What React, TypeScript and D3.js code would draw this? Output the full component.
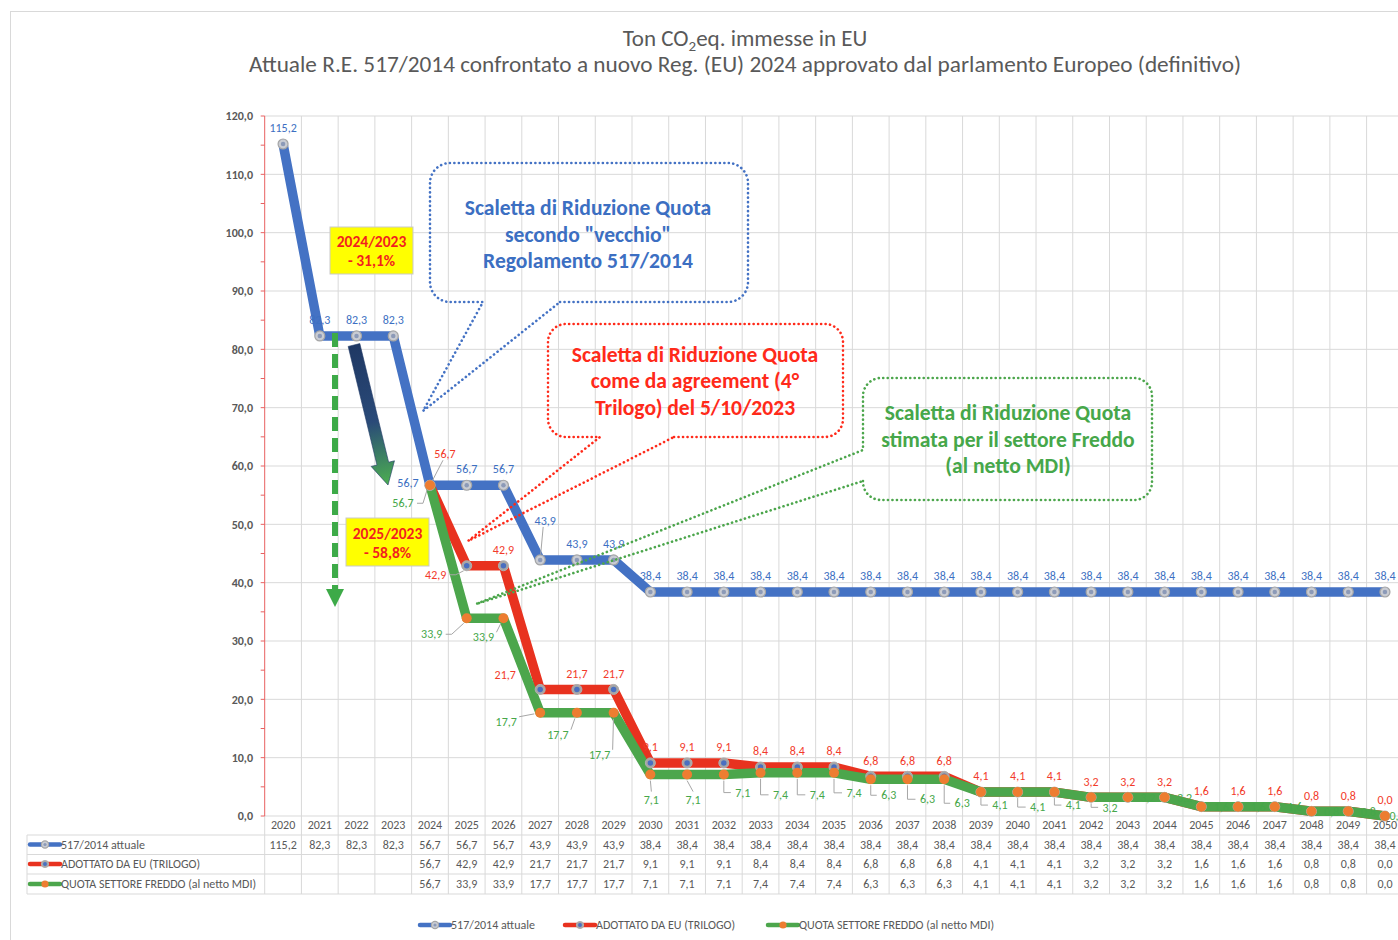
import React from "react";
import * as d3 from "d3";

const years = Array.from({ length: 31 }, (_, i) => String(2020 + i));
const seriesNames = ["517/2014 attuale", "ADOTTATO DA EU (TRILOGO)", "QUOTA SETTORE FREDDO (al netto MDI)"];
const blueValues: (number | null)[] = [115.2, 82.3, 82.3, 82.3, 56.7, 56.7, 56.7, 43.9, 43.9, 43.9,
  38.4, 38.4, 38.4, 38.4, 38.4, 38.4, 38.4, 38.4, 38.4, 38.4, 38.4, 38.4, 38.4, 38.4, 38.4, 38.4, 38.4, 38.4, 38.4, 38.4, 38.4];
const redValues: (number | null)[] = [null, null, null, null, 56.7, 42.9, 42.9, 21.7, 21.7, 21.7,
  9.1, 9.1, 9.1, 8.4, 8.4, 8.4, 6.8, 6.8, 6.8, 4.1, 4.1, 4.1, 3.2, 3.2, 3.2, 1.6, 1.6, 1.6, 0.8, 0.8, 0.0];
const greenValues: (number | null)[] = [null, null, null, null, 56.7, 33.9, 33.9, 17.7, 17.7, 17.7,
  7.1, 7.1, 7.1, 7.4, 7.4, 7.4, 6.3, 6.3, 6.3, 4.1, 4.1, 4.1, 3.2, 3.2, 3.2, 1.6, 1.6, 1.6, 0.8, 0.8, 0.0];
const yTicks = [0, 10, 20, 30, 40, 50, 60, 70, 80, 90, 100, 110, 120];

// label placement (styling, not data): [dx, dy, leader type]
type Off = [number, number, string];
const blueOff: Record<number, Off> = { 4: [-22, -2, ""], 7: [5, -39, "line"] };
const redOff: Record<number, Off> = { 4: [15, -31, "line"], 5: [-31, 9, "h"], 7: [-35, -15, ""] };
const greenOff: Record<number, Off> = {
  4: [-27, 18, "h"], 5: [-35, 16, "h"], 6: [-20, 19, "line"], 7: [-34, 9, "line"], 8: [-19, 22, "line"], 9: [-14, 42, "line"],
  10: [1, 25, "vert"], 11: [6, 25, "vert"], 12: [19, 18, "elbow"], 13: [20, 22, "elbow"], 14: [20, 22, "elbow"], 15: [20, 20, "elbow"],
  16: [18, 16, "elbow"], 17: [20, 20, "elbow"], 18: [18, 24, "elbow"], 19: [19, 13, "elbow"], 20: [20, 15, "elbow"], 21: [19, 13, "elbow"],
  22: [19, 10, "elbow"], 30: [12, 0, ""],
};

const FONT = "Carlito, Lato, 'Open Sans', sans-serif";
const BLUE = "#4472C4";
const RED = "#E8321F";
const GREEN = "#4CA64C";
const BLUE_T = "#3C6FC2";
const RED_T = "#F23A2A";
const GREEN_T = "#46A74A";
const GRID = "#D9D9D9";
const TXT = "#595959";

const fmt = (v: number) => v.toFixed(1).replace(".", ",");

export default function App() {
  const W = 1398, H = 940;
  const x0 = 264.7, bw = 36.73;
  const x = d3.scaleBand<string>().domain(years).range([x0, x0 + bw * years.length]);
  const cx = (i: number) => (x(years[i]) as number) + x.bandwidth() / 2;
  const y = d3.scaleLinear().domain([0, 120]).range([816, 116]);
  const line = d3.line<number | null>()
    .defined((d) => d != null)
    .x((_, i) => cx(i))
    .y((d) => y(d as number));

  const series = [
    { name: seriesNames[0], vals: blueValues, color: BLUE, tcol: BLUE_T, off: blueOff, def: [0, -16, ""] as Off },
    { name: seriesNames[1], vals: redValues, color: RED, tcol: RED_T, off: redOff, def: [0, -16, ""] as Off },
    { name: seriesNames[2], vals: greenValues, color: GREEN, tcol: GREEN_T, off: greenOff, def: [20, 0, ""] as Off },
  ];

  const marker = (si: number, px: number, py: number, r = 5, key?: any) => {
    if (si === 0)
      return (
        <g key={key}>
          <circle cx={px} cy={py} r={r} fill="#C9CCD3" stroke="#A6A6A6" strokeWidth={1.2} />
          <circle cx={px} cy={py} r={r * 0.45} fill="#8C9AB8" />
        </g>
      );
    if (si === 1)
      return (
        <g key={key}>
          <circle cx={px} cy={py} r={r} fill="#A6A6A6" stroke="#B0B0B0" strokeWidth={1} />
          <circle cx={px} cy={py} r={r * 0.55} fill="#4A6FC0" />
        </g>
      );
    return <circle key={key} cx={px} cy={py} r={r} fill="#ED7D31" />;
  };

  const calloutBottom = (x0: number, y0: number, x1: number, y1: number, r: number, g0: number, g1: number, tx: number, ty: number) =>
    `M${g1},${y1} H${x1 - r} A${r},${r} 0 0 0 ${x1},${y1 - r} V${y0 + r} A${r},${r} 0 0 0 ${x1 - r},${y0} H${x0 + r} A${r},${r} 0 0 0 ${x0},${y0 + r} V${y1 - r} A${r},${r} 0 0 0 ${x0 + r},${y1} H${g0} L${tx},${ty} Z`;
  const calloutLeft = (x0: number, y0: number, x1: number, y1: number, r: number, g0: number, g1: number, tx: number, ty: number) =>
    `M${x0},${g1} V${y1 - r} A${r},${r} 0 0 0 ${x0 + r},${y1} H${x1 - r} A${r},${r} 0 0 0 ${x1},${y1 - r} V${y0 + r} A${r},${r} 0 0 0 ${x1 - r},${y0} H${x0 + r} A${r},${r} 0 0 0 ${x0},${y0 + r} V${g0} L${tx},${ty} Z`;

  // block arrow geometry
  const ax0 = 354, ay0 = 345, ax1 = 388, ay1 = 485;
  const adx = ax1 - ax0, ady = ay1 - ay0, alen = Math.hypot(adx, ady);
  const ux = adx / alen, uy = ady / alen, nx = -uy, ny = ux;
  const sw = 6, hw = 12, hl = 22;
  const bx = ax1 - ux * hl, by = ay1 - uy * hl;
  const arrowPts = [
    [ax0 + nx * sw, ay0 + ny * sw], [bx + nx * sw, by + ny * sw], [bx + nx * hw, by + ny * hw], [ax1, ay1],
    [bx - nx * hw, by - ny * hw], [bx - nx * sw, by - ny * sw], [ax0 - nx * sw, ay0 - ny * sw],
  ].map((p) => p.join(",")).join(" ");

  const rowY = [825, 844.5, 864, 884];
  const rowB = [816, 835, 854.5, 874, 894];
  const tableRight = x0 + bw * years.length;
  const cf = 21.6; // callout font size

  return (
    <svg width={W} height={H} style={{ position: "absolute", left: 0, top: 0, background: "#fff" }} fontFamily={FONT}>
      <defs>
        <linearGradient id="ag" gradientUnits="userSpaceOnUse" x1={ax0} y1={ay0} x2={ax1} y2={ay1}>
          <stop offset="0" stopColor="#1F3864" />
          <stop offset="0.55" stopColor="#2A4A78" />
          <stop offset="1" stopColor="#4CAF50" />
        </linearGradient>
      </defs>
      <rect x={0} y={0} width={W} height={H} fill="#fff" />
      <rect x={10.5} y={11.5} width={1420} height={960} fill="none" stroke="#D9D9D9" strokeWidth={1} />

      {/* title */}
      <text x={745} y={45.5} textAnchor="middle" fontSize={23} fill={TXT}>
        Ton CO<tspan fontSize={15} dy={5}>2</tspan><tspan dy={-5}>eq. immesse in EU</tspan>
      </text>
      <text x={745} y={71.5} textAnchor="middle" fontSize={23} fill={TXT} textLength={992} lengthAdjust="spacingAndGlyphs">
        Attuale R.E. 517/2014 confrontato a nuovo Reg. (EU) 2024 approvato dal parlamento Europeo (definitivo)
      </text>

      {/* gridlines */}
      {yTicks.map((t) => (
        <line key={"h" + t} x1={x0} x2={tableRight} y1={y(t)} y2={y(t)} stroke={GRID} strokeWidth={1} />
      ))}
      {years.map((yr, i) => (
        <line key={"v" + yr} x1={x0 + bw * (i + 1)} x2={x0 + bw * (i + 1)} y1={y(120)} y2={rowB[4]} stroke={GRID} strokeWidth={1} />
      ))}

      {/* table */}
      {rowB.slice(1).map((b, i) => (
        <line key={"tr" + i} x1={27} x2={tableRight} y1={b} y2={b} stroke={GRID} strokeWidth={1} />
      ))}
      <line x1={27} x2={27} y1={rowB[1]} y2={rowB[4]} stroke={GRID} />
      <line x1={x0} x2={x0} y1={y(0)} y2={rowB[4]} stroke={GRID} />
      {years.map((yr, i) => (
        <text key={"yl" + yr} x={cx(i)} y={rowY[0]} dy="0.35em" textAnchor="middle" fontSize={12} fill={TXT}>{yr}</text>
      ))}
      {series.map((s, si) => (
        <g key={"row" + si}>
          <line x1={30} x2={60} y1={rowY[si + 1]} y2={rowY[si + 1]} stroke={s.color} strokeWidth={4.5} strokeLinecap="round" />
          {marker(si, 45, rowY[si + 1], 3.6)}
          <text x={61} y={rowY[si + 1]} dy="0.35em" fontSize={12} fill={TXT}>{s.name}</text>
          {s.vals.map((v, i) => v == null ? null : (
            <text key={i} x={cx(i)} y={rowY[si + 1]} dy="0.35em" textAnchor="middle" fontSize={12} fill={TXT}>{fmt(v)}</text>
          ))}
        </g>
      ))}

      {/* y axis */}
      <line x1={x0} x2={x0} y1={y(120)} y2={y(0)} stroke="#E86060" strokeWidth={1} />
      {d3.range(0, 121, 5).map((t) => (
        <line key={"tk" + t} x1={x0 - 4} x2={x0} y1={y(t)} y2={y(t)} stroke="#E86060" strokeWidth={1} />
      ))}
      {yTicks.map((t) => (
        <text key={"yt" + t} x={253} y={y(t)} dy="0.35em" textAnchor="end" fontSize={12} fontWeight="bold" fill={TXT}>{fmt(t)}</text>
      ))}

      {/* lines */}
      {series.map((s, si) => (
        <path key={"ln" + si} d={line(s.vals) || ""} fill="none" stroke={s.color} strokeWidth={9.5} strokeLinejoin="round" strokeLinecap="round" />
      ))}
      {/* markers */}
      {series.map((s, si) => (
        <g key={"mk" + si}>
          {s.vals.map((v, i) => v == null ? null : marker(si, cx(i), y(v), 5, i))}
        </g>
      ))}
      {/* data labels */}
      {series.map((s, si) => (
        <g key={"lb" + si}>
          {s.vals.map((v, i) => {
            if (v == null) return null;
            const o = s.off[i] || s.def;
            const px = cx(i), py = y(v);
            const lx = px + o[0], ly = py + o[1];
            const txt = fmt(v);
            const w = txt.length * 6;
            let leader: string | null = null;
            if (o[2] === "line") {
              const ex = o[0] < 0 ? lx + w / 2 + 1 : lx - 2;
              const ey = o[1] < 0 ? ly + 6 : ly - 5;
              const d = Math.hypot(px - ex, py - ey);
              leader = `M${ex},${ey} L${px + (ex - px) * 6 / d},${py + (ey - py) * 6 / d}`;
            } else if (o[2] === "h") {
              const ex = lx + w / 2 + 2;
              leader = `M${ex},${ly} H${ex + 6} L${px - 3},${py + (o[1] > 0 ? 5 : -5)}`;
            } else if (o[2] === "vert") {
              leader = `M${px},${py + 6} L${lx},${ly - 8}`;
            } else if (o[2] === "elbow") {
              leader = `M${px},${py + 6} V${ly} H${lx - w / 2 - 3}`;
            }
            return (
              <g key={i}>
                {leader && <path d={leader} fill="none" stroke="#A6A6A6" strokeWidth={1} />}
                <text x={lx} y={ly} dy="0.35em" textAnchor="middle" fontSize={12} fill={s.tcol}>{txt}</text>
              </g>
            );
          })}
        </g>
      ))}

      {/* callouts */}
      <path d={calloutBottom(430, 163, 748, 302, 20, 483, 560, 423, 411)} fill="none" stroke={BLUE} strokeWidth={2.6} strokeDasharray="0.1 4.4" strokeLinecap="round" />
      <g fontSize={cf} fontWeight="bold" fill={BLUE_T} textAnchor="middle">
        <text x={588} y={215}>Scaletta di Riduzione Quota</text>
        <text x={588} y={241.5}>secondo "vecchio"</text>
        <text x={588} y={268}>Regolamento 517/2014</text>
      </g>
      <path d={calloutBottom(548, 324, 843, 437, 18, 600, 674, 468, 541)} fill="none" stroke="#FF2A1A" strokeWidth={2.6} strokeDasharray="0.1 4.4" strokeLinecap="round" />
      <g fontSize={cf} fontWeight="bold" fill="#FF2A1A" textAnchor="middle">
        <text x={695} y={362}>Scaletta di Riduzione Quota</text>
        <text x={695} y={388}>come da agreement (4°</text>
        <text x={695} y={415}>Trilogo) del 5/10/2023</text>
      </g>
      <path d={calloutLeft(863, 378, 1152, 500, 18, 450, 481, 476, 604)} fill="none" stroke={GREEN} strokeWidth={2.6} strokeDasharray="0.1 4.4" strokeLinecap="round" />
      <g fontSize={cf} fontWeight="bold" fill={GREEN_T} textAnchor="middle">
        <text x={1008} y={420}>Scaletta di Riduzione Quota</text>
        <text x={1008} y={446.5}>stimata per il settore Freddo</text>
        <text x={1008} y={473}>(al netto MDI)</text>
      </g>

      {/* green dashed arrow */}
      <line x1={335} x2={335} y1={333} y2={590} stroke="#3DAA48" strokeWidth={6} strokeDasharray="14 7" />
      <polygon points="326,589 344,589 335,607" fill="#3DAA48" />

      {/* gradient block arrow */}
      <polygon points={arrowPts} fill="url(#ag)" stroke="#1F3864" strokeWidth={0.6} />

      {/* yellow boxes */}
      <rect x={330} y={227} width={83} height={47} fill="#FFFF00" stroke="#C9C9C9" strokeWidth={1} />
      <g fontSize={15.5} fontWeight="bold" fill="#F21F1F" textAnchor="middle">
        <text x={371.5} y={247}>2024/2023</text>
        <text x={371.5} y={266}>- 31,1%</text>
      </g>
      <rect x={346} y={518} width={83} height={48} fill="#FFFF00" stroke="#C9C9C9" strokeWidth={1} />
      <g fontSize={15.5} fontWeight="bold" fill="#F21F1F" textAnchor="middle">
        <text x={387.5} y={539}>2025/2023</text>
        <text x={387.5} y={558}>- 58,8%</text>
      </g>

      {/* bottom legend */}
      {series.map((s, si) => {
        const lx = [420, 565, 768][si];
        return (
          <g key={"lg" + si}>
            <line x1={lx} x2={lx + 30} y1={925} y2={925} stroke={s.color} strokeWidth={4.5} strokeLinecap="round" />
            {marker(si, lx + 15, 925, 3.6)}
            <text x={lx + 31} y={925} dy="0.35em" fontSize={12} fill={TXT}>{s.name}</text>
          </g>
        );
      })}
    </svg>
  );
}
